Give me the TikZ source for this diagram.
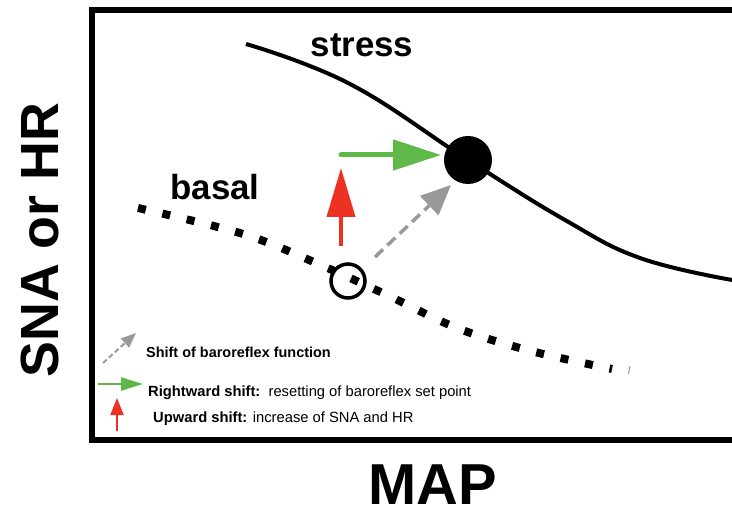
\documentclass[tikz,border=0pt]{standalone}
\usepackage{fontspec}
\setmainfont{Liberation Sans}
\usetikzlibrary{arrows.meta}
\definecolor{myred}{RGB}{237,50,36}
\definecolor{mygreen}{RGB}{96,184,72}
\definecolor{mygray}{RGB}{153,153,153}
\tikzset{
  bigtext/.style={font=\fontsize{54}{60}\selectfont\bfseries, inner sep=0pt},
  curvelabel/.style={font=\fontsize{35}{40}\selectfont\bfseries, inner sep=0pt},
  legtext/.style={font=\fontsize{14.8}{17}\selectfont, inner sep=0pt, anchor=west},
  redarrow/.style={myred, line width=4bp, -{Triangle[length=49bp,width=28bp]}},
  greenarrow/.style={mygreen, line width=5bp, line cap=round, -{Triangle[length=48bp,width=30bp]}},
  grayarrow/.style={mygray, line width=3.5bp, dash pattern=on 11bp off 6bp, -{Triangle[length=30bp,width=26bp]}},
}
\begin{document}
\begin{tikzpicture}[x=1bp,y=-1bp]
\useasboundingbox (0,0) rectangle (732,515);
% frame
\draw[line width=5.5bp] (732,10) -- (92,10) -- (92,440) -- (732,440);
% stress curve
\draw[line width=4bp] plot[smooth,tension=0.7] coordinates {(246,44) (350,84) (468,160) (565,220) (640,258) (732,280)};
% basal curve (square dots)
\draw[line width=8bp, dash pattern=on 8bp off 17bp] plot[smooth,tension=0.6] coordinates {(138,208) (243,234) (316,263) (387,295) (457,328) (531,351) (612,369)};
\draw[mygray, line width=1bp] (628.5,374) -- (630,366);
% points
\node[circle, fill, minimum size=48bp, inner sep=0pt] (stressdot) at (468,160) {};
\node[circle, draw, line width=3.5bp, minimum size=34bp, inner sep=0pt] (basaldot) at (348,281) {};
% labels
\node[curvelabel, anchor=base] (stress) at (362,57) {stress};
\node[curvelabel, anchor=base] (basal) at (215,200) {basal};
\node[bigtext, font=\fontsize{58}{64}\selectfont\bfseries, anchor=base] (map) at (433,504) {MAP};
\node[bigtext, anchor=base, rotate=90] (ylab) at (58,240) {SNA or HR};
% main arrows
\coordinate (redstart) at (341,246);
\coordinate (redtip) at (341,168);
\coordinate (greenstart) at (341,155);
\coordinate (greentip) at (441,155);
\coordinate (graystart) at (375,257);
\coordinate (graytip) at (451,185);
\draw[grayarrow] (graystart) -- (graytip);
\draw[redarrow] (redstart) -- (redtip);
\draw[greenarrow] (greenstart) -- (greentip);
% legend
\coordinate (lg1s) at (103,363);
\coordinate (lg1e) at (136,333);
\coordinate (lg2s) at (98,384);
\coordinate (lg2e) at (143,384);
\coordinate (lg3s) at (117,431);
\coordinate (lg3e) at (117,398);
\draw[mygray, line width=2bp, dash pattern=on 5bp off 3bp, -{Triangle[length=15bp,width=12bp]}] (lg1s) -- (lg1e);
\draw[mygreen, line width=2.5bp, -{Triangle[length=22bp,width=13bp]}] (lg2s) -- (lg2e);
\draw[myred, line width=2bp, -{Triangle[length=17bp,width=13bp]}] (lg3s) -- (lg3e);
\node[legtext, font=\fontsize{14.5}{17}\selectfont\bfseries] (leg1) at (146,352) {Shift of baroreflex function};
\node[legtext] (leg2) at (148,393) {\textbf{Rightward shift:}\ \ resetting of baroreflex set point};
\node[legtext] (leg3) at (153,419) {\textbf{Upward shift:} increase of SNA and HR};
\end{tikzpicture}
\end{document}
